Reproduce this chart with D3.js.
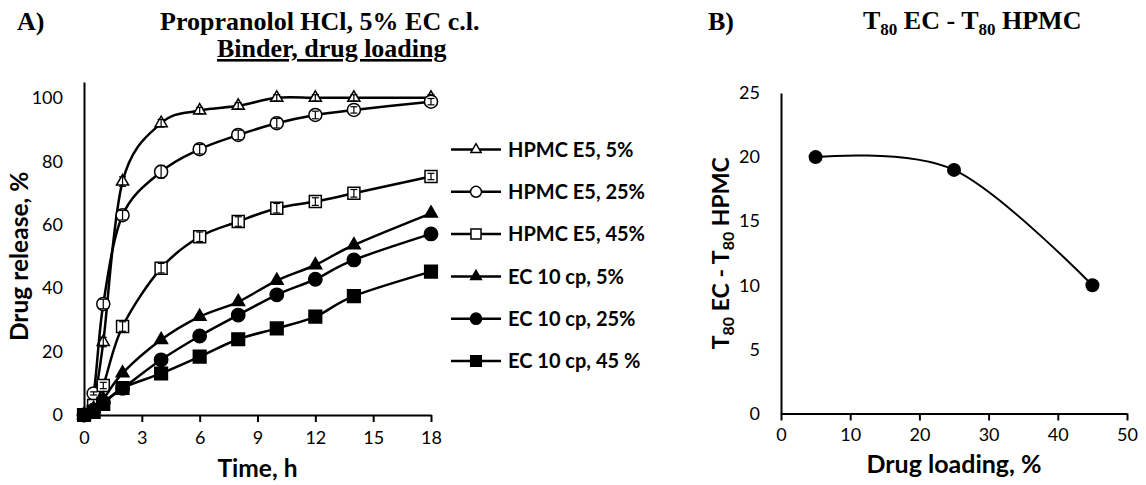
<!DOCTYPE html>
<html><head><meta charset="utf-8">
<script src="https://cdn.jsdelivr.net/npm/d3@7"></script>
<style>
html,body{margin:0;padding:0;background:#fff;}
svg{display:block;}
.tick text{font-family:Lato,"Open Sans",sans-serif;font-size:18px;fill:#000;}
</style></head><body>
<svg id="c" width="1146" height="485"></svg>
<script>
// ---- Panel A data ----
const time = [0, 0.5, 1, 2, 4, 6, 8, 10, 12, 14, 18];
const hpmc5  = [0, 4, 23, 73.6, 92, 96, 97.5, 100, 100, 100, 100];
const hpmc25 = [0, 6.8, 35, 63, 76.7, 83.8, 88.3, 92, 94.6, 96.2, 98.8];
const hpmc45 = [0, 3, 9.3, 27.9, 46.3, 56.2, 61, 65.2, 67.3, 69.9, 75.2];
const ec5    = [0, 2, 5, 13.2, 23.7, 31, 35.7, 42.4, 47.3, 53.6, 63.6];
const ec25   = [0, 1.5, 4, 8.4, 17.4, 24.9, 31.5, 37.9, 42.8, 48.9, 57.1];
const ec45   = [0, 1, 3.5, 8.5, 13.1, 18.4, 23.9, 27.3, 31, 37.5, 45.2];
const hpmc5Err  = [0, 0.5, 1.5, 1.5, 1.2, 1, 1, 1, 1, 1, 1];
const hpmc25Err = [0, 0.5, 1.5, 1.5, 2, 1.5, 1.5, 1.5, 1.2, 1, 1];
const hpmc45Err = [0, 0.5, 1, 1.5, 1.5, 1.5, 1.5, 1.5, 1.2, 1.2, 1];
const seriesNames = ["HPMC E5, 5%", "HPMC E5, 25%", "HPMC E5, 45%", "EC 10 cp, 5%", "EC 10 cp, 25%", "EC 10 cp, 45 %"];
const xTicksA = [0, 3, 6, 9, 12, 15, 18];
const yTicksA = [0, 20, 40, 60, 80, 100];

// ---- Panel B data ----
const loading = [5, 25, 45];
const t80diff = [20, 19, 10];
const xTicksB = [0, 10, 20, 30, 40, 50];
const yTicksB = [0, 5, 10, 15, 20, 25];

const svg = d3.select("#c");
const SANS = 'Lato, "Open Sans", sans-serif';
const SERIF = '"Liberation Serif", "Times New Roman", serif';

// ===== Panel A =====
const xA = d3.scaleLinear().domain([0, 18]).range([84, 431]);
const yA = d3.scaleLinear().domain([0, 105]).range([415, 82]);

const gA = svg.append("g");
const yAxA = gA.append("g").attr("transform", `translate(${xA(0)},0)`)
  .call(d3.axisLeft(yA).tickValues(yTicksA).tickSize(0).tickPadding(21));
yAxA.select(".domain").attr("stroke", "#000").attr("stroke-width", 2);
const xAxA = gA.append("g").attr("transform", `translate(0,${yA(0)})`)
  .call(d3.axisBottom(xA).tickValues(xTicksA).tickSizeInner(7).tickSizeOuter(0).tickPadding(9));
xAxA.select(".domain").attr("stroke", "#000").attr("stroke-width", 2);
xAxA.selectAll(".tick line").attr("stroke", "#000").attr("stroke-width", 2);

const seriesA = [
  {name: seriesNames[0], vals: hpmc5,  err: hpmc5Err,  sym: d3.symbolTriangle, size: 64,  fill: "#fff"},
  {name: seriesNames[1], vals: hpmc25, err: hpmc25Err, sym: d3.symbolCircle,   size: 133, fill: "#fff"},
  {name: seriesNames[2], vals: hpmc45, err: hpmc45Err, sym: d3.symbolSquare,   size: 144, fill: "#fff"},
  {name: seriesNames[3], vals: ec5,    err: null,      sym: d3.symbolTriangle, size: 70,  fill: "#000"},
  {name: seriesNames[4], vals: ec25,   err: null,      sym: d3.symbolCircle,   size: 140, fill: "#000"},
  {name: seriesNames[5], vals: ec45,   err: null,      sym: d3.symbolSquare,   size: 160, fill: "#000"}
];

const lineA = d3.line().x(d => xA(d[0])).y(d => yA(d[1])).curve(d3.curveCatmullRom.alpha(0));

seriesA.forEach(s => {
  const pts = time.map((t, i) => [t, s.vals[i]]);
  const g = gA.append("g");
  g.append("path").attr("d", lineA(pts)).attr("fill", "none").attr("stroke", "#000").attr("stroke-width", 2.5);
  g.selectAll("path.m").data(pts).enter().append("path").attr("class", "m")
    .attr("transform", d => `translate(${xA(d[0])},${yA(d[1])})`)
    .attr("d", d3.symbol().type(s.sym).size(s.size))
    .attr("fill", s.fill).attr("stroke", "#000").attr("stroke-width", 1.5);
  if (s.err) {
    const eg = g.append("g").attr("stroke", "#000").attr("stroke-width", 1.2);
    time.forEach((t, i) => {
      if (!s.err[i]) return;
      const cx = xA(t), y1 = yA(s.vals[i] - s.err[i]), y2 = yA(s.vals[i] + s.err[i]);
      eg.append("line").attr("x1", cx).attr("x2", cx).attr("y1", y1).attr("y2", y2);
      eg.append("line").attr("x1", cx - 3.5).attr("x2", cx + 3.5).attr("y1", y1).attr("y2", y1);
      eg.append("line").attr("x1", cx - 3.5).attr("x2", cx + 3.5).attr("y1", y2).attr("y2", y2);
    });
  }
});

// legend
const legY = d3.scalePoint().domain(seriesNames).range([149.5, 361]);
seriesA.forEach(s => {
  const y = legY(s.name);
  gA.append("line").attr("x1", 451).attr("x2", 501).attr("y1", y).attr("y2", y)
    .attr("stroke", "#000").attr("stroke-width", 2.5);
  gA.append("path").attr("transform", `translate(476,${y})`)
    .attr("d", d3.symbol().type(s.sym).size(s.size * 0.7))
    .attr("fill", s.fill).attr("stroke", "#000").attr("stroke-width", 1.5);
  gA.append("text").attr("x", 508).attr("y", y).attr("dy", "0.36em")
    .attr("font-family", SANS).attr("font-weight", "bold").attr("font-size", 20)
    .text(s.name);
});

// axis titles A
gA.append("text").attr("x", xA(9)).attr("y", 477).attr("text-anchor", "middle")
  .attr("font-family", SANS).attr("font-weight", "bold").attr("font-size", 24.5).text("Time, h");
gA.append("text").attr("transform", `translate(28,${(yA(0) + yA(100)) / 2}) rotate(-90)`)
  .attr("text-anchor", "middle")
  .attr("font-family", SANS).attr("font-weight", "bold").attr("font-size", 24.5).text("Drug release, %");

// titles A
svg.append("text").attr("x", 17).attr("y", 30).attr("font-family", SERIF).attr("font-weight", "bold")
  .attr("font-size", 26).text("A)");
svg.append("text").attr("x", 160).attr("y", 30).attr("font-family", SERIF).attr("font-weight", "bold")
  .attr("font-size", 26).text("Propranolol HCl, 5% EC c.l.");
svg.append("text").attr("x", 217).attr("y", 57).attr("font-family", SERIF).attr("font-weight", "bold")
  .attr("font-size", 26).attr("text-decoration", "underline").text("Binder, drug loading");

// ===== Panel B =====
const xB = d3.scaleLinear().domain([0, 50]).range([781, 1127]);
const yB = d3.scaleLinear().domain([0, 25]).range([413.5, 93]);
const gB = svg.append("g");
const yAxB = gB.append("g").attr("transform", `translate(${xB(0)},0)`)
  .call(d3.axisLeft(yB).tickValues(yTicksB).tickSize(0).tickPadding(21));
yAxB.select(".domain").attr("stroke", "#000").attr("stroke-width", 2);
const xAxB = gB.append("g").attr("transform", `translate(0,${yB(0)})`)
  .call(d3.axisBottom(xB).tickValues(xTicksB).tickSizeInner(7).tickSizeOuter(0).tickPadding(8));
xAxB.select(".domain").attr("stroke", "#000").attr("stroke-width", 2);
xAxB.selectAll(".tick line").attr("stroke", "#000").attr("stroke-width", 2);

const ptsB = loading.map((l, i) => [l, t80diff[i]]);
gB.append("path").attr("d", d3.line().x(d => xB(d[0])).y(d => yB(d[1])).curve(d3.curveCatmullRom.alpha(0))(ptsB))
  .attr("fill", "none").attr("stroke", "#000").attr("stroke-width", 2);
gB.selectAll("circle.p").data(ptsB).enter().append("circle").attr("class", "p")
  .attr("cx", d => xB(d[0])).attr("cy", d => yB(d[1])).attr("r", 7).attr("fill", "#000");

gB.append("text").attr("x", xB(25)).attr("y", 473).attr("text-anchor", "middle")
  .attr("font-family", SANS).attr("font-weight", "bold").attr("font-size", 25).text("Drug loading, %");
const yt = gB.append("text").attr("transform", `translate(729,${(yB(0) + yB(25)) / 2}) rotate(-90)`)
  .attr("text-anchor", "middle")
  .attr("font-family", SANS).attr("font-weight", "bold").attr("font-size", 23);
yt.append("tspan").text("T");
yt.append("tspan").attr("font-size", 16).attr("dy", 5).text("80");
yt.append("tspan").attr("dy", -5).text(" EC - T");
yt.append("tspan").attr("font-size", 16).attr("dy", 5).text("80");
yt.append("tspan").attr("dy", -5).text(" HPMC");

svg.append("text").attr("x", 708).attr("y", 30).attr("font-family", SERIF).attr("font-weight", "bold")
  .attr("font-size", 26).text("B)");
const bt = svg.append("text").attr("x", 863).attr("y", 29).attr("font-family", SERIF).attr("font-weight", "bold")
  .attr("font-size", 26);
bt.append("tspan").text("T");
bt.append("tspan").attr("font-size", 17).attr("dy", 6).text("80");
bt.append("tspan").attr("dy", -6).text(" EC - T");
bt.append("tspan").attr("font-size", 17).attr("dy", 6).text("80");
bt.append("tspan").attr("dy", -6).text(" HPMC");
</script>
</body></html>
